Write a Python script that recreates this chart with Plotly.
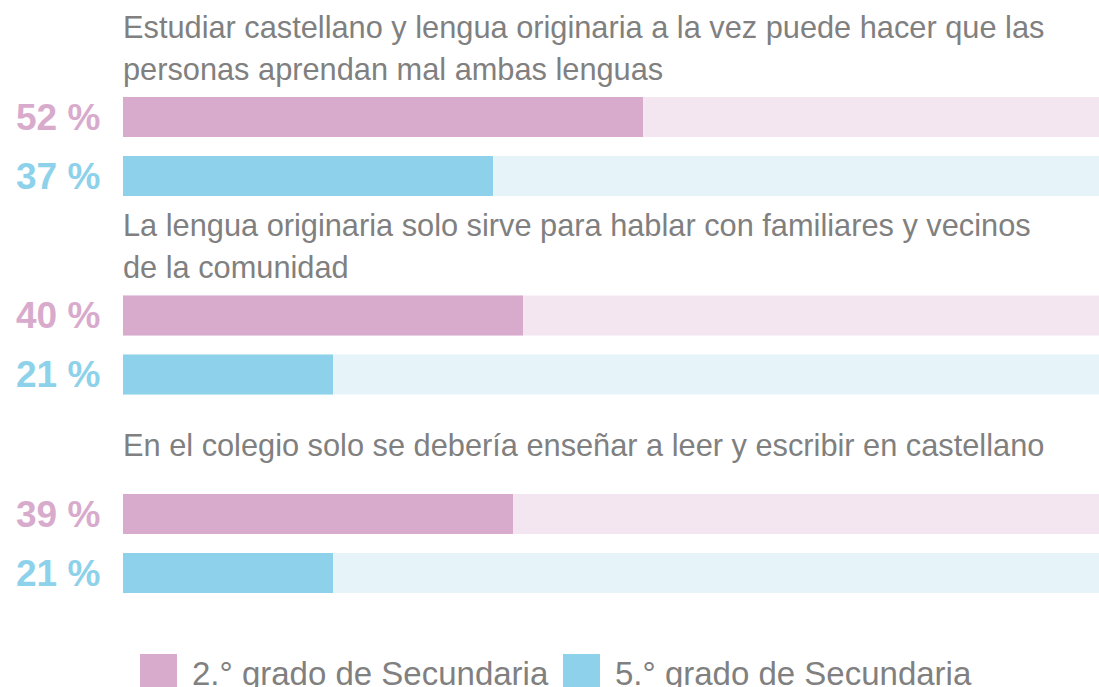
import plotly.graph_objects as go

# ---- data ----
statements = [
    ["Estudiar castellano y lengua originaria a la vez puede hacer que las",
     "personas aprendan mal ambas lenguas"],
    ["La lengua originaria solo sirve para hablar con familiares y vecinos",
     "de la comunidad"],
    ["En el colegio solo se debería enseñar a leer y escribir en castellano"],
]
series_names = ["2.° grado de Secundaria", "5.° grado de Secundaria"]
grade2_values = [52, 40, 39]
grade5_values = [37, 21, 21]
total = 100

# ---- style ----
W, H = 1099, 687
LEFT = 123
PW = W - LEFT
colors = ["#d8abcd", "#8dd2ea"]
bg_colors = ["#f4e6f1", "#e6f4fa"]
text_grey = "#808080"
FONT = "Liberation Sans, Arial, sans-serif"

group_step = 198.5
bar_offsets = [117, 176]
bar_h = 40
line_step = 42
first_line = 27

fig = go.Figure()
annotations = []
for s, (name, vals) in enumerate(zip(series_names, [grade2_values, grade5_values])):
    ys = [bar_offsets[s] + i * group_step for i in range(len(vals))]
    fig.add_trace(go.Bar(x=[total] * len(vals), y=ys, orientation="h", width=bar_h,
                         marker=dict(color=bg_colors[s], line=dict(width=0)),
                         showlegend=False, hoverinfo="skip"))
    fig.add_trace(go.Bar(x=vals, y=ys, orientation="h", width=bar_h, name=name,
                         marker=dict(color=colors[s], line=dict(width=0)),
                         showlegend=False))
    for v, y in zip(vals, ys):
        annotations.append(dict(x=-21 / PW, xref="paper", y=y, yref="y",
                                text=f"<b>{v} %</b>", showarrow=False,
                                xanchor="right", yanchor="middle",
                                font=dict(family=FONT, size=37, color=colors[s])))

for i, lines in enumerate(statements):
    g = i * group_step
    if len(lines) == 1:
        centers = [first_line + g + line_step / 2]
    else:
        centers = [first_line + g + k * line_step for k in range(len(lines))]
    for line, c in zip(lines, centers):
        annotations.append(dict(x=-2 / PW, xref="paper", y=c, yref="y", text=line,
                                showarrow=False, xanchor="left", yanchor="middle",
                                font=dict(family=FONT, size=30.75, color=text_grey)))

# legend drawn manually
shapes = []
leg_x = [140, 563]
for s, name in enumerate(series_names):
    x0 = (leg_x[s] - LEFT) / PW
    x1 = (leg_x[s] + 37 - LEFT) / PW
    shapes.append(dict(type="rect", xref="paper", yref="y", x0=x0, x1=x1,
                       y0=654, y1=700, fillcolor=colors[s], line=dict(width=0)))
    annotations.append(dict(x=(leg_x[s] + 50 - LEFT) / PW, xref="paper",
                            y=673, yref="y", text=name, showarrow=False,
                            xanchor="left", yanchor="middle",
                            font=dict(family=FONT, size=33, color=text_grey)))

fig.update_layout(
    width=W, height=H, barmode="overlay",
    margin=dict(l=LEFT, r=0, t=0, b=0),
    paper_bgcolor="white", plot_bgcolor="white",
    xaxis=dict(range=[0, 97.6], visible=False, fixedrange=True),
    yaxis=dict(range=[H, 0], visible=False, fixedrange=True),
    annotations=annotations, shapes=shapes,
)
fig.write_html("out.html", config={"displayModeBar": False},
               post_script="document.body.style.margin='0';document.body.style.overflow='hidden';")
